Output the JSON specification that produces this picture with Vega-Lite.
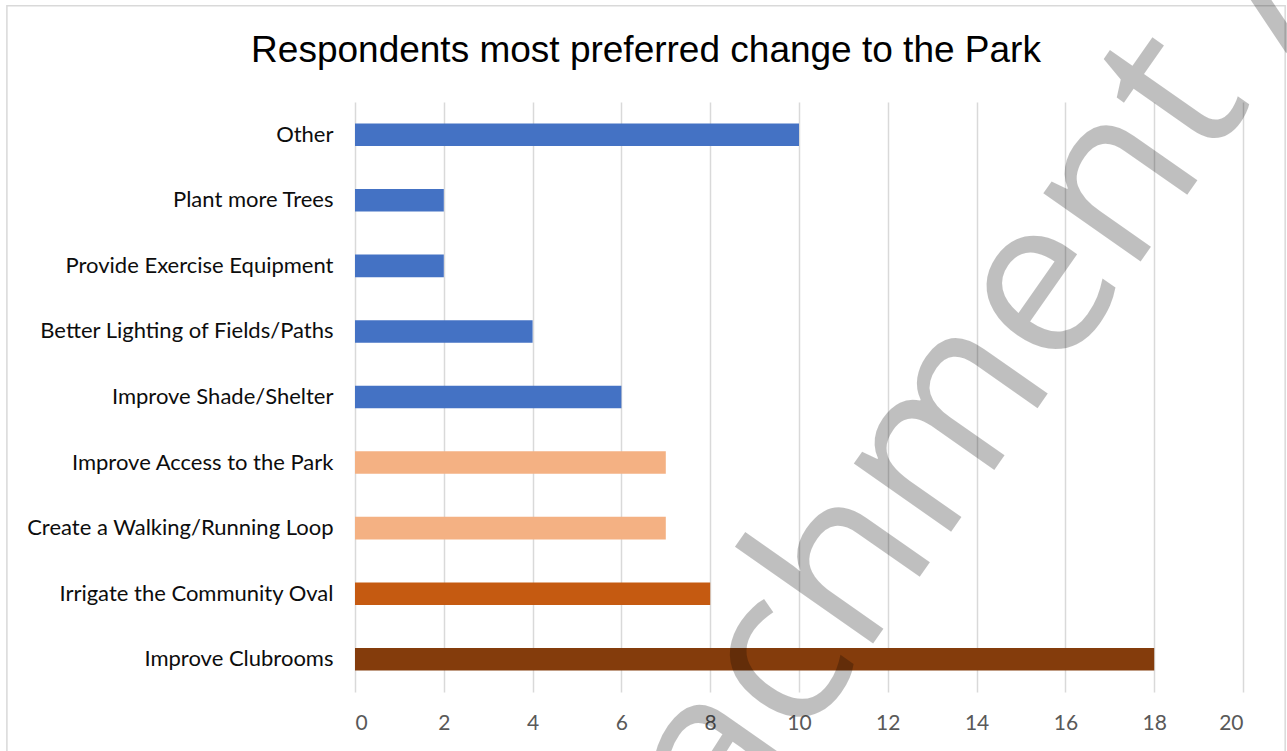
{
  "$schema": "https://vega.github.io/schema/vega-lite/v6.json",
  "width": 888,
  "height": 590,
  "autosize": {"type": "none"},
  "padding": {"left": 355, "top": 102, "right": 44, "bottom": 59},
  "background": "white",
  "config": {"view": {"stroke": null}},
  "resolve": {"scale": {"y": "independent"}},
  "layer": [
    {
      "data": {
        "values": [
          {"change": "Other", "count": 10, "group": "g1"},
          {"change": "Plant more Trees", "count": 2, "group": "g1"},
          {"change": "Provide Exercise Equipment", "count": 2, "group": "g1"},
          {"change": "Better Lighting of Fields/Paths", "count": 4, "group": "g1"},
          {"change": "Improve Shade/Shelter", "count": 6, "group": "g1"},
          {"change": "Improve Access to the Park", "count": 7, "group": "g2"},
          {"change": "Create a Walking/Running Loop", "count": 7, "group": "g2"},
          {"change": "Irrigate the Community Oval", "count": 8, "group": "g3"},
          {"change": "Improve Clubrooms", "count": 18, "group": "g4"}
        ]
      },
      "mark": {"type": "bar"},
      "encoding": {
        "y": {
          "field": "change",
          "type": "nominal",
          "sort": null,
          "scale": {"paddingInner": 0.656, "paddingOuter": 0.328},
          "axis": {
            "title": null,
            "domain": false,
            "ticks": false,
            "labelFont": "Lato",
            "labelFontSize": 22,
            "labelColor": "#0d0d0d",
            "labelPadding": 22,
            "labelLimit": 400
          }
        },
        "x": {
          "field": "count",
          "type": "quantitative",
          "scale": {"domain": [0, 20], "nice": false},
          "axis": {
            "title": null,
            "domain": false,
            "ticks": false,
            "grid": true,
            "gridColor": "#d9d9d9",
            "gridWidth": 1.5,
            "values": [0, 2, 4, 6, 8, 10, 12, 14, 16, 18, 20],
            "labelFont": "Lato",
            "labelFontSize": 21,
            "labelColor": "#595959",
            "labelPadding": 20
          }
        },
        "color": {
          "field": "group",
          "type": "nominal",
          "scale": {"domain": ["g1", "g2", "g3", "g4"], "range": ["#4472C4", "#F4B183", "#C55A11", "#843C0C"]},
          "legend": null
        }
      }
    },
    {
      "data": {"values": [{"x1": -7.84, "x2": 20.95, "y1": 1.163, "y2": -0.12}]},
      "mark": {"type": "rect", "filled": false, "stroke": "#d9d9d9", "strokeWidth": 1.5},
      "encoding": {
        "x": {"field": "x1", "type": "quantitative", "scale": {"domain": [0, 20], "nice": false}},
        "x2": {"field": "x2"},
        "y": {"field": "y1", "type": "quantitative", "scale": {"domain": [0, 1], "nice": false, "zero": false}, "axis": null},
        "y2": {"field": "y2"}
      }
    },
    {
      "data": {"values": [{"label": "Respondents most preferred change to the Park", "x": 6.554, "y": 1.0678}]},
      "mark": {
        "type": "text",
        "font": "Liberation Sans",
        "fontSize": 37,
        "align": "center",
        "baseline": "alphabetic",
        "fill": "#000000"
      },
      "encoding": {
        "x": {"field": "x", "type": "quantitative", "scale": {"domain": [0, 20], "nice": false}},
        "y": {"field": "y", "type": "quantitative", "scale": {"domain": [0, 1], "nice": false, "zero": false}, "axis": null},
        "text": {"field": "label"}
      }
    },
    {
      "data": {"values": [{"label": "Attachment A", "x": 13.694, "y": 0.3}]},
      "mark": {
        "type": "text",
        "angle": 305,
        "font": "Open Sans",
        "fontSize": 222,
        "align": "center",
        "baseline": "alphabetic",
        "fill": "#000000",
        "fillOpacity": 0.25
      },
      "encoding": {
        "x": {"field": "x", "type": "quantitative", "scale": {"domain": [0, 20], "nice": false}},
        "y": {"field": "y", "type": "quantitative", "scale": {"domain": [0, 1], "nice": false, "zero": false}, "axis": null},
        "text": {"field": "label"}
      }
    }
  ]
}
